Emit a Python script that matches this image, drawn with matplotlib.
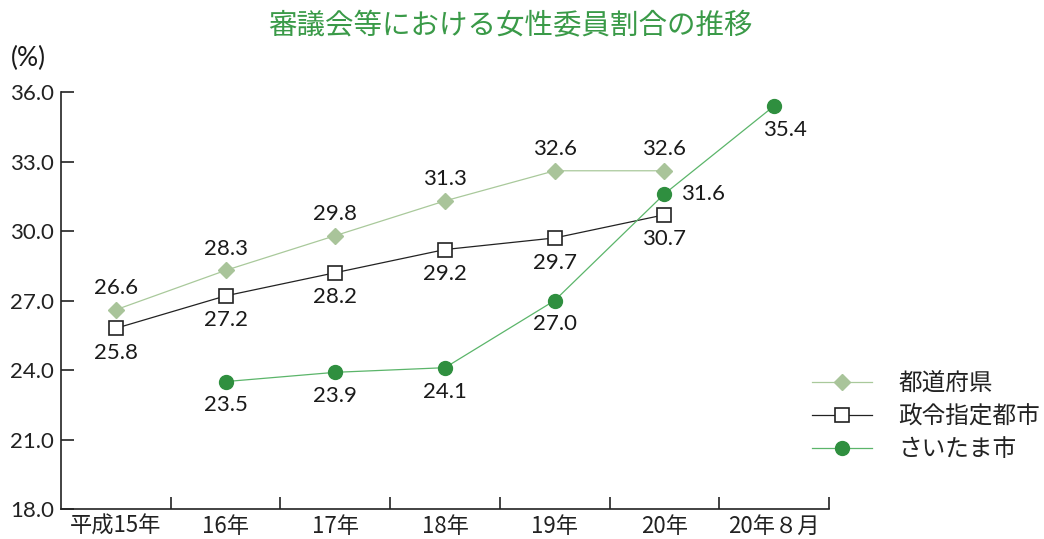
import matplotlib
matplotlib.use("Agg")
import matplotlib.pyplot as plt
import numpy as np

plt.rcParams['font.family'] = ['Noto Sans CJK JP', 'DejaVu Sans']

categories = ['平成15年', '16年', '17年', '18年', '19年', '20年', '20年８月']
pref = [26.6, 28.3, 29.8, 31.3, 32.6, 32.6, None]
city = [25.8, 27.2, 28.2, 29.2, 29.7, 30.7, None]
saitama = [None, 23.5, 23.9, 24.1, 27.0, 31.6, 35.4]
series_names = ['都道府県', '政令指定都市', 'さいたま市']
yticks = [18.0, 21.0, 24.0, 27.0, 30.0, 33.0, 36.0]

c_pref_line = '#a9c99b'
c_pref_mark = '#a9c49a'
c_sai_line = '#5bb56a'
c_sai_mark = '#2f8f3f'
c_title = '#3a9a48'

NUMFONT = ['Lato', 'DejaVu Sans']
NUMW = 'normal'
NUMSIZE = 16

fig = plt.figure(figsize=(10.44, 5.39), dpi=100)
ax = fig.add_axes([61/1044, 30/539, 768/1044, 417/539])

x = np.arange(len(categories))

def arr(v):
    return np.array([np.nan if a is None else a for a in v], dtype=float)

ax.plot(x, arr(pref), color=c_pref_line, lw=0.9, marker='D', ms=8.5,
        mfc=c_pref_mark, mec=c_pref_mark, label=series_names[0], zorder=3)
ax.plot(x, arr(city), color='#222222', lw=0.9, marker='s', ms=10,
        mfc='white', mec='#222222', mew=1.2, label=series_names[1], zorder=4)
ax.plot(x, arr(saitama), color=c_sai_line, lw=0.9, marker='o', ms=10,
        mfc=c_sai_mark, mec=c_sai_mark, label=series_names[2], zorder=5)

lab_kw = dict(fontsize=NUMSIZE, family=NUMFONT, fontweight=NUMW, color='#1a1a1a')
for i, v in enumerate(pref):
    if v is not None:
        ax.annotate(f'{v:.1f}', (i, v), xytext=(0, 8.5), textcoords='offset points',
                    ha='center', va='bottom', **lab_kw)
for i, v in enumerate(city):
    if v is not None:
        ax.annotate(f'{v:.1f}', (i, v), xytext=(0, -10.5), textcoords='offset points',
                    ha='center', va='top', **lab_kw)
for i, v in enumerate(saitama):
    if v is None:
        continue
    if i == 5:
        ax.annotate(f'{v:.1f}', (i, v), xytext=(12, 0), textcoords='offset points',
                    ha='left', va='center', **lab_kw)
    elif i == 6:
        ax.annotate(f'{v:.1f}', (i, v), xytext=(8, -10), textcoords='offset points',
                    ha='center', va='top', **lab_kw)
    else:
        ax.annotate(f'{v:.1f}', (i, v), xytext=(0, -10), textcoords='offset points',
                    ha='center', va='top', **lab_kw)

ax.set_xlim(-0.5, len(categories) - 0.5)
ax.set_ylim(18.0, 36.0)
ax.set_yticks(yticks)
ax.set_yticklabels([f'{t:.1f}' for t in yticks], family=NUMFONT, fontweight=NUMW,
                   fontsize=NUMSIZE, color='#1a1a1a')
ax.tick_params(axis='y', direction='in', length=9, width=1.2, pad=5, colors='#222222')

ax.set_xticks(x)
ax.set_xticklabels(categories, fontsize=16, color='#222222')
ax.tick_params(axis='x', length=0, pad=4)
ax.set_xticks(np.arange(0.5, len(categories), 1.0), minor=True)
ax.tick_params(axis='x', which='minor', direction='in', length=9, width=1.2, colors='#222222')

for s in ['top', 'right']:
    ax.spines[s].set_visible(False)
for s in ['left', 'bottom']:
    ax.spines[s].set_linewidth(1.2)
    ax.spines[s].set_color('#222222')

fig.text(510/1044, 1 - 26/539, '審議会等における女性委員割合の推移', ha='center', va='center',
         fontsize=20.5, color=c_title, fontweight='normal')
fig.text(11/1044, 1 - 58/539, '(%)', ha='left', va='center', fontsize=19,
         family=NUMFONT, fontweight=NUMW, color='#1a1a1a')

leg = ax.legend(loc='upper left', bbox_to_anchor=(812/1044, 1 - 372/539),
                bbox_transform=fig.transFigure, frameon=False, fontsize=17,
                handlelength=2.55, handletextpad=1.1, labelspacing=0.42,
                borderpad=0, borderaxespad=0)
for t in leg.get_texts():
    t.set_color('#222222')

fig.savefig('out.png', dpi=100)
